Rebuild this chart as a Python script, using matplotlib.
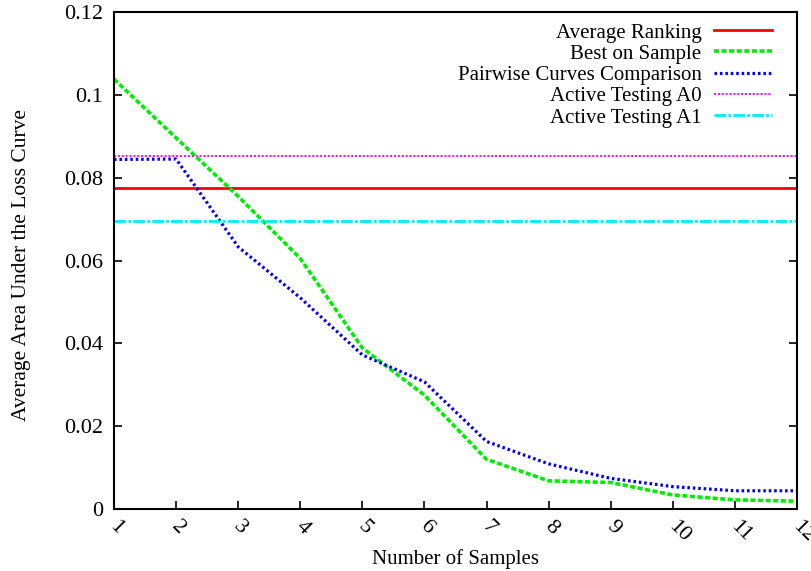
import numpy as np
import matplotlib.pyplot as plt
from matplotlib.transforms import ScaledTranslation

plt.rcParams['font.family'] = ['Liberation Serif', 'DejaVu Serif']

samples = [1, 2, 3, 4, 5, 6, 7, 8, 9, 10, 11, 12]
best_on_sample = [0.1038, 0.0896, 0.0755, 0.0605, 0.0389, 0.0275, 0.0120,
                  0.0068, 0.0064, 0.0034, 0.0022, 0.0019]
pairwise = [0.0844, 0.0845, 0.0633, 0.0510, 0.0372, 0.0307, 0.0163,
            0.0109, 0.0074, 0.0054, 0.0044, 0.0044]
average_ranking = 0.0775
active_a0 = 0.0852
active_a1 = 0.0695

fig = plt.figure(figsize=(8.12, 5.71), dpi=100)
ax = fig.add_axes([114 / 812, 1 - 509 / 571, (797 - 114) / 812, (509 - 12) / 571])

xs = np.array(samples)
ax.plot(xs, np.full(len(xs), average_ranking), color='#ff0000', lw=2.0,
        label='Average Ranking')
ax.plot(xs, best_on_sample, color='#00ee00', lw=2.6, dashes=(1.4, 0.7),
        label='Best on Sample')
ax.plot(xs, pairwise, color='#0000ff', lw=2.3, dashes=(0.8, 0.9),
        label='Pairwise Curves Comparison')
ax.plot(xs, np.full(len(xs), active_a0), color='#ff00ff', lw=1.4,
        dashes=(1.0, 1.0), label='Active Testing A0')
ax.plot(xs, np.full(len(xs), active_a1), color='#00eeee', lw=2.0,
        dashes=(4.2, 0.8, 1.0, 0.8), label='Active Testing A1')

ax.set_xlim(1, 12)
ax.set_ylim(0, 0.12)
ax.set_xticks(samples)
ax.set_xticklabels([str(s) for s in samples], rotation=-45,
                   ha='left', va='top', rotation_mode='anchor')
ax.set_yticks([0, 0.02, 0.04, 0.06, 0.08, 0.1, 0.12])
ax.set_yticklabels(['0', '0.02', '0.04', '0.06', '0.08', '0.1', '0.12'])
ax.tick_params(direction='in', length=6, width=1.2, labelsize=16,
               top=False, right=True, pad=8)
ax.tick_params(axis='x', pad=6)
# nudge the slanted x labels a little to the right of their ticks
shift = ScaledTranslation(5 / 100, 0, fig.dpi_scale_trans)
for lab in ax.get_xticklabels():
    lab.set_transform(lab.get_transform() + shift)
for sp in ax.spines.values():
    sp.set_linewidth(1.5)

ax.set_xlabel('Number of Samples', fontsize=15)
ax.xaxis.set_label_coords(0.5, -0.08)
ax.set_ylabel('Average Area Under the Loss Curve', fontsize=15.5)
ax.yaxis.set_label_coords(-0.122, 0.49)

leg = ax.legend(loc='upper right', bbox_to_anchor=(0.9634, 0.978),
                frameon=False, markerfirst=False, fontsize=15,
                handlelength=2.8, labelspacing=0.08, borderaxespad=0,
                borderpad=0, handletextpad=0.58)
for t in leg.get_texts():
    t.set_ha('right')
leg._legend_box.align = 'right'

fig.savefig('out.png', dpi=100)
